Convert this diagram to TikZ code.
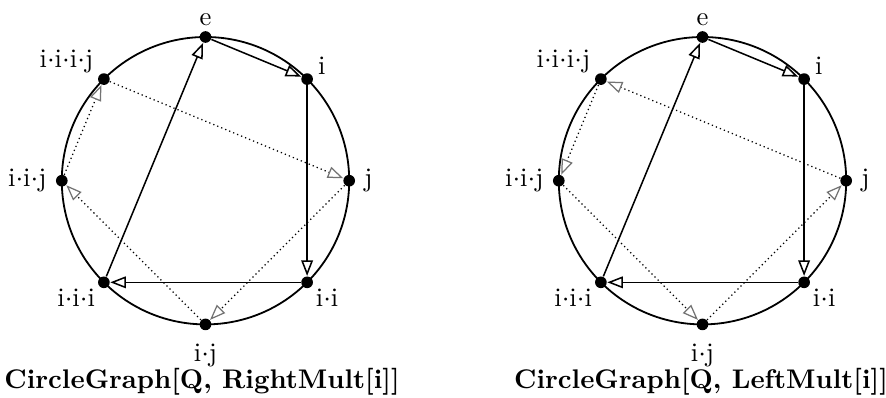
\documentclass[tikz,border=0pt]{standalone}
\usepackage{fontspec}
\usetikzlibrary{arrows.meta}
\begin{document}
\begin{tikzpicture}[x=0.36pt, y=0.36pt,
	vertex/.style={fill=black, circle, inner sep=0pt, minimum size=4.2pt},
	move/.style={-{Triangle[open, length=5.6pt, width=4.2pt]}, line width=0.55pt},
	dotmove/.style={-{Triangle[open, length=5.6pt, width=4.2pt, color=black!55]}, line width=0.45pt, dash pattern=on 0.45pt off 1.1pt},
	every label/.style={font=\fontsize{9.6}{11}\selectfont, inner sep=1pt}]
	
	% ---- Page size ----
	\useasboundingbox (0,0) rectangle (886,397);
	
	% ---- Radius of both circles ----
	\def\rad{143.7}
	
	% ---- Circles and vertices (left graph L, right graph R) ----
	\foreach \g/\cx in {L/205.5, R/702.5}
	{
		\begin{scope}[shift={(\cx,216.3)}]
			\draw[line width=0.65pt] (0,0) circle (\rad);
			\foreach \angle/\name/\pos/\dist/\txt in {
				90/e/90/0.5/e,
				45/i/8/0.5/i,
				0/j/0/2/j,
				-45/ii/-32/0/i$\cdot$i,
				-90/ij/-90/3.5/i$\cdot$j,
				-135/iii/-150/0/i$\cdot$i$\cdot$i,
				180/iij/180/2/i$\cdot$i$\cdot$j,
				135/iiij/162/0.5/i$\cdot$i$\cdot$i$\cdot$j
			}
			{
				\node[vertex, label={[label distance=\dist pt]\pos:\txt}] (\g\name) at (\angle:\rad) {};
			}
		\end{scope}
	}
	
	% ---- Captions ----
	\node[font=\fontsize{9.7}{12}\bfseries, anchor=base] (capL) at (202,9) {CircleGraph[Q, RightMult[i]]};
	\node[font=\fontsize{9.7}{12}\bfseries, anchor=base] (capR) at (701,9) {CircleGraph[Q, LeftMult[i]]};
	
	% ---- Cycle e, i, i·i, i·i·i (same in both) ----
	\foreach \g in {L,R}
	\foreach \a/\b in {e/i, i/ii, ii/iii, iii/e}
	\draw[move] (\g\a) -- (\g\b);
	
	% ---- Cycle through j ----
	\foreach \a/\b in {iiij/j, j/ij, ij/iij, iij/iiij}
	\draw[dotmove] (L\a) -- (L\b);
	\foreach \a/\b in {j/iiij, iiij/iij, iij/ij, ij/j}
	\draw[dotmove] (R\a) -- (R\b);
	
\end{tikzpicture}
\end{document}
